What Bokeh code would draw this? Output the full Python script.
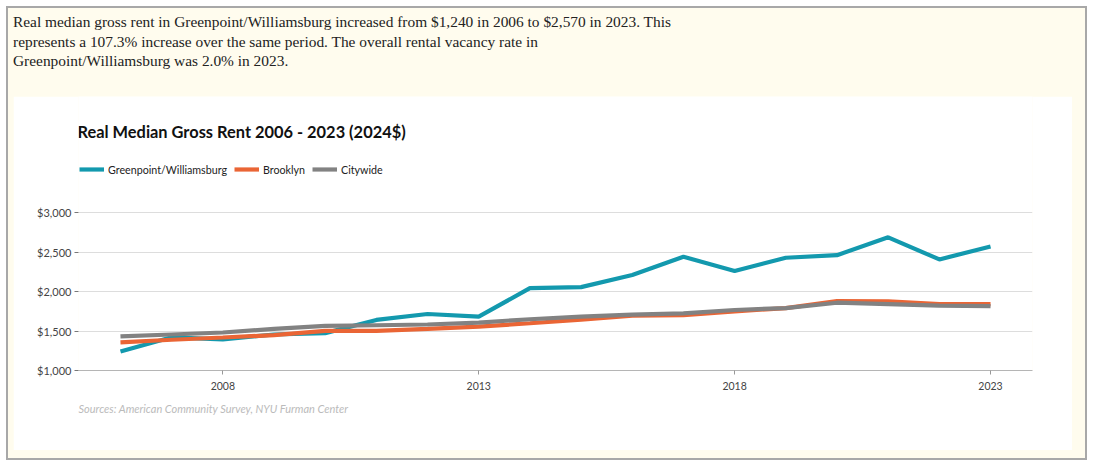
from bokeh.plotting import figure
from bokeh.models import (ColumnDataSource, Legend, LegendItem, Label, Div, Title,
                          NumeralTickFormatter, FixedTicker, Range1d)
from bokeh.layouts import column
from bokeh.embed import file_html
from bokeh.resources import INLINE

# ---- data ----
years = list(range(2006, 2024))
greenpoint = [1240, 1420, 1393, 1456, 1473, 1640, 1715, 1682, 2042, 2055,
              2209, 2439, 2259, 2427, 2460, 2686, 2406, 2570]
brooklyn = [1356, 1389, 1418, 1448, 1502, 1502, 1527, 1556, 1598, 1645,
            1695, 1700, 1749, 1790, 1880, 1874, 1841, 1841]
citywide = [1431, 1456, 1481, 1527, 1565, 1573, 1582, 1607, 1649, 1682,
            1707, 1724, 1766, 1790, 1858, 1841, 1820, 1816]
series_names = ["Greenpoint/Williamsburg", "Brooklyn", "Citywide"]
x_ticks = [2008, 2013, 2018, 2023]
y_ticks = [1000, 1500, 2000, 2500, 3000]

title_text = "Real Median Gross Rent 2006 - 2023 (2024$)"
source_text = "Sources: American Community Survey, NYU Furman Center"
intro_lines = [
    "Real median gross rent in Greenpoint/Williamsburg increased from $1,240 in 2006 to $2,570 in 2023. This",
    "represents a 107.3% increase over the same period. The overall rental vacancy rate in",
    "Greenpoint/Williamsburg was 2.0% in 2023.",
]

colors = ["#1399ae", "#ea6535", "#828282"]
FONT = "Lato"

# ---- geometry (pixels) ----
FIG_W, FIG_H = 1059, 354
BORDER_L, BORDER_R, BORDER_B = 65, 40, 80
FRAME_H = FIG_H - BORDER_B            # frame reaches the top of the figure
PLOT_H = 158                          # pixels between $1,000 and $3,000
Y0, Y1 = 1000, 3000
per_px = (Y1 - Y0) / PLOT_H
y_top = Y0 + FRAME_H * per_px

src = ColumnDataSource(dict(year=years, g=greenpoint, b=brooklyn, c=citywide))

p = figure(width=FIG_W, height=FIG_H,
           x_range=Range1d(2005.18, 2023.82), y_range=Range1d(Y0, y_top),
           output_backend="svg", toolbar_location=None, title=None,
           min_border_left=BORDER_L, min_border_right=BORDER_R,
           min_border_top=0, min_border_bottom=BORDER_B,
           background_fill_color="white", border_fill_color="white",
           outline_line_color=None, margin=(0, 0, 0, 5))

r_g = p.line("year", "g", source=src, line_color=colors[0], line_width=4.2)
r_b = p.line("year", "b", source=src, line_color=colors[1], line_width=4.2)
r_c = p.line("year", "c", source=src, line_color=colors[2], line_width=4.2)

# axes
p.xaxis.ticker = FixedTicker(ticks=x_ticks)
p.xaxis.axis_line_color = "#b5b5b5"
p.xaxis.major_tick_line_color = "#999999"
p.xaxis.major_tick_out = 4
p.xaxis.major_tick_in = 0
p.xaxis.minor_tick_line_color = None
p.xaxis.major_label_standoff = 7
p.xaxis.major_label_text_font = FONT
p.xaxis.major_label_text_font_size = "10.5px"
p.xaxis.major_label_text_color = "#444444"

p.yaxis.ticker = FixedTicker(ticks=y_ticks)
p.yaxis.formatter = NumeralTickFormatter(format="$0,0")
p.yaxis.axis_line_color = None
p.yaxis.major_tick_line_color = "#777777"
p.yaxis.major_tick_out = 4
p.yaxis.major_tick_in = 0
p.yaxis.minor_tick_line_color = None
p.yaxis.major_label_standoff = 3
p.yaxis.major_label_text_font = FONT
p.yaxis.major_label_text_font_size = "11px"
p.yaxis.major_label_text_color = "#444444"

p.xgrid.grid_line_color = None
p.ygrid.grid_line_color = "#dddddd"
p.ygrid.ticker = FixedTicker(ticks=y_ticks)

# legend (inside the tall frame, above the data)
legend_center_from_bottom = FRAME_H - 73.5
legend = Legend(items=[LegendItem(label=series_names[0], renderers=[r_g]),
                       LegendItem(label=series_names[1], renderers=[r_b]),
                       LegendItem(label=series_names[2], renderers=[r_c])],
                orientation="horizontal",
                location=(1, legend_center_from_bottom - 6),
                glyph_width=25, glyph_height=12, label_height=12,
                label_standoff=4, spacing=7, padding=0, margin=0,
                label_text_font=FONT, label_text_font_size="10.7px",
                label_text_color="#222222",
                background_fill_alpha=0, border_line_color=None)
p.add_layout(legend, "center")

# chart title
title_from_bottom = FRAME_H - 35
p.add_layout(Label(x=2005.16, y=Y0 + title_from_bottom * per_px, text=title_text,
                   text_font=FONT, text_font_style="bold", text_font_size="16.4px",
                   text_color="#111111", text_baseline="middle"))

# source note below the axis
p.add_layout(Title(text=source_text, align="left", text_font=FONT,
                   text_font_style="italic", text_font_size="11px",
                   text_color="#bbbbbb", standoff=15), "below")

intro = Div(text='<div style="font-family:\'Liberation Serif\'; font-size:15.4px; '
                 'line-height:19.5px; color:#222; padding:4px 0 0 5px; white-space:nowrap;">'
                 + "<br>".join(intro_lines) + "</div>",
            width=1077, height=88, margin=(0, 0, 0, 0))

layout = column(intro, p, width=1081, height=454, spacing=0, margin=(6, 0, 0, 6),
                styles={"background-color": "#fffcee",
                        "border": "2px solid #a8a8a8"})

open("out.html", "w").write(file_html(layout, INLINE))
